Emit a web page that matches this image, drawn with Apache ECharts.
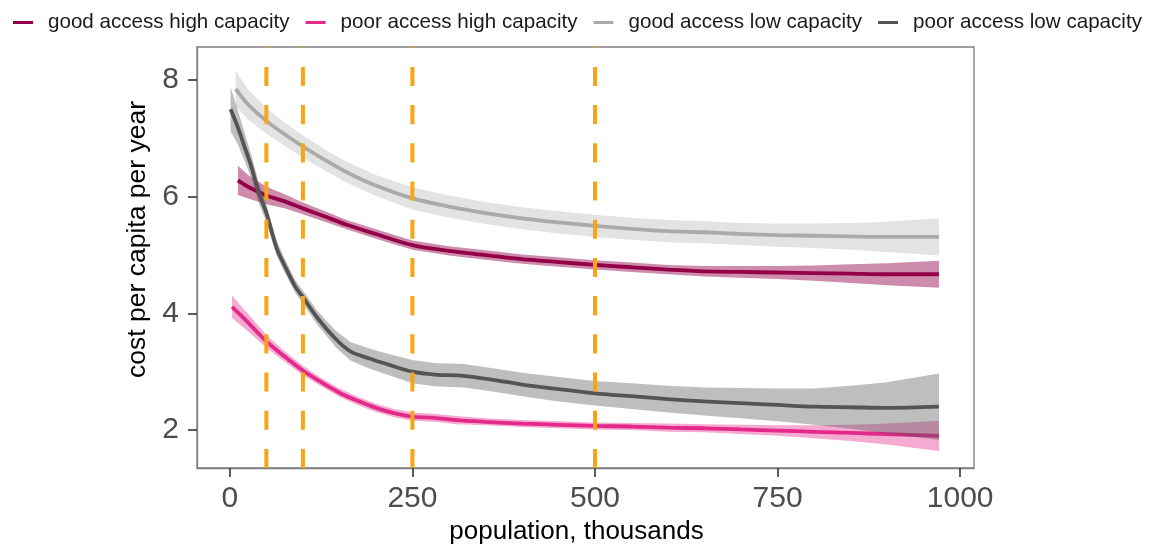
<!DOCTYPE html>
<html>
<head>
<meta charset="utf-8">
<script src="https://cdn.jsdelivr.net/npm/echarts@6/dist/echarts.min.js"></script>
<style>
  html, body { margin: 0; padding: 0; background: #ffffff; }
  #chart { width: 1165px; height: 552px; }
</style>
</head>
<body>
<div id="chart"></div>
<script>
// Smoothed cost per capita per year against population (thousands),
// with a confidence ribbon (half-width) for each access/capacity group.

const seriesNames = [
  'good access high capacity',
  'poor access high capacity',
  'good access low capacity',
  'poor access low capacity'
];

// good access, high capacity
const popGoodHigh  = [11, 25, 50, 75, 100, 130, 160, 200, 250, 300, 350, 400, 450, 500, 550, 600, 650, 700, 750, 800, 850, 900, 971];
const costGoodHigh = [6.28, 6.17, 6.02, 5.92, 5.80, 5.66, 5.52, 5.36, 5.17, 5.07, 5.00, 4.93, 4.88, 4.83, 4.79, 4.75, 4.72, 4.71, 4.70, 4.69, 4.68, 4.67, 4.67];
const ciGoodHigh   = [0.25, 0.20, 0.15, 0.12, 0.10, 0.09, 0.08, 0.08, 0.08, 0.08, 0.08, 0.08, 0.08, 0.08, 0.08, 0.08, 0.09, 0.10, 0.11, 0.13, 0.16, 0.19, 0.23];

// poor access, high capacity
const popPoorHigh  = [3, 25, 50, 75, 100, 125, 150, 175, 200, 225, 250, 280, 310, 350, 400, 450, 500, 550, 600, 650, 700, 750, 800, 850, 900, 971];
const costPoorHigh = [4.11, 3.84, 3.52, 3.26, 3.02, 2.82, 2.64, 2.50, 2.38, 2.29, 2.23, 2.21, 2.17, 2.14, 2.11, 2.09, 2.07, 2.06, 2.04, 2.03, 2.01, 1.99, 1.97, 1.95, 1.93, 1.90];
const ciPoorHigh   = [0.19, 0.15, 0.11, 0.09, 0.08, 0.07, 0.07, 0.07, 0.07, 0.07, 0.07, 0.07, 0.07, 0.06, 0.06, 0.06, 0.06, 0.06, 0.07, 0.07, 0.08, 0.09, 0.11, 0.14, 0.18, 0.26];

// good access, low capacity
const popGoodLow  = [8, 25, 50, 75, 100, 130, 160, 200, 250, 300, 350, 400, 450, 500, 550, 600, 650, 700, 750, 800, 850, 900, 971];
const costGoodLow = [7.85, 7.58, 7.30, 7.07, 6.86, 6.63, 6.42, 6.19, 5.97, 5.83, 5.72, 5.63, 5.56, 5.50, 5.45, 5.41, 5.39, 5.36, 5.34, 5.33, 5.32, 5.31, 5.31];
const ciGoodLow   = [0.30, 0.26, 0.22, 0.20, 0.19, 0.18, 0.18, 0.18, 0.19, 0.19, 0.19, 0.19, 0.19, 0.19, 0.19, 0.19, 0.19, 0.19, 0.20, 0.21, 0.23, 0.26, 0.32];

// poor access, low capacity
const popPoorLow  = [1, 10, 20, 30, 40, 50, 64, 75, 90, 100, 120, 145, 165, 190, 215, 250, 280, 320, 360, 400, 450, 500, 550, 600, 650, 700, 750, 800, 850, 900, 971];
const costPoorLow = [7.50, 7.22, 6.86, 6.49, 6.05, 5.72, 5.12, 4.82, 4.45, 4.28, 3.92, 3.56, 3.35, 3.23, 3.13, 3.00, 2.95, 2.93, 2.86, 2.78, 2.70, 2.63, 2.58, 2.53, 2.49, 2.46, 2.43, 2.40, 2.39, 2.38, 2.40];
const ciPoorLow   = [0.38, 0.30, 0.24, 0.20, 0.17, 0.15, 0.13, 0.12, 0.11, 0.11, 0.12, 0.14, 0.16, 0.17, 0.18, 0.20, 0.20, 0.20, 0.20, 0.20, 0.21, 0.21, 0.22, 0.23, 0.24, 0.26, 0.28, 0.31, 0.37, 0.44, 0.57];

// population thresholds marked with dashed reference lines
const thresholds = [50, 100, 250, 500];

// axis ticks
const xTicks = [0, 250, 500, 750, 1000];
const yTicks = [2, 4, 6, 8];

const X_MIN = -45, X_MAX = 1019;
const Y_MIN = 1.349, Y_MAX = 8.566;

const groups = [
  { name: seriesNames[0], x: popGoodHigh, y: costGoodHigh, ci: ciGoodHigh, line: '#930047', fill: 'rgba(147,0,71,0.45)' },
  { name: seriesNames[1], x: popPoorHigh, y: costPoorHigh, ci: ciPoorHigh, line: '#E3298A', fill: 'rgba(230,45,140,0.40)' },
  { name: seriesNames[2], x: popGoodLow,  y: costGoodLow,  ci: ciGoodLow,  line: '#AAAAAA', fill: 'rgba(170,170,170,0.33)' },
  { name: seriesNames[3], x: popPoorLow,  y: costPoorLow,  ci: ciPoorLow,  line: '#545454', fill: 'rgba(84,84,84,0.38)' }
];

const FONT = '"Liberation Sans", Arial, sans-serif';

const series = [];
groups.forEach(function (g, k) {
  // confidence ribbon
  series.push({
    type: 'custom',
    name: g.name + ' ribbon',
    silent: true,
    clip: true,
    z: 2 + k * 2,
    data: [[g.x[0], g.y[0]]],
    renderItem: function (params, api) {
      const upper = g.x.map(function (x, i) { return api.coord([x, g.y[i] + g.ci[i]]); });
      const lower = g.x.map(function (x, i) { return api.coord([x, g.y[i] - g.ci[i]]); }).reverse();
      return {
        type: 'polygon',
        shape: { points: upper.concat(lower) },
        style: { fill: g.fill, stroke: null }
      };
    }
  });
  // fitted line
  series.push({
    type: 'line',
    name: g.name,
    z: 3 + k * 2,
    data: g.x.map(function (x, i) { return [x, g.y[i]]; }),
    showSymbol: false,
    symbol: 'none',
    smooth: 0.3,
    color: g.line,
    lineStyle: { color: g.line, width: 3.8 }
  });
});

// dashed vertical lines at the population thresholds
thresholds.forEach(function (t) {
  series.push({
    type: 'line',
    name: 'threshold ' + t,
    z: 20,
    silent: true,
    data: [[t, Y_MIN], [t, Y_MAX]],
    showSymbol: false,
    symbol: 'none',
    lineStyle: { color: '#F8A414', width: 4, type: [19.1, 19.1] }
  });
});

const option = {
  animation: false,
  backgroundColor: '#ffffff',
  textStyle: { fontFamily: FONT },
  legend: {
    data: seriesNames,
    left: 8,
    top: 7,
    icon: 'rect',
    itemWidth: 20,
    itemHeight: 3,
    itemGap: 16,
    textStyle: { fontSize: 20.6, color: '#1a1a1a', fontFamily: FONT, padding: [0, 0, 0, 10] }
  },
  grid: {
    left: 197,
    right: 191,
    top: 47,
    bottom: 84,
    show: true,
    borderColor: '#7F7F7F',
    borderWidth: 1.3,
    backgroundColor: 'transparent'
  },
  xAxis: {
    type: 'value',
    min: X_MIN,
    max: X_MAX,
    name: 'population, thousands',
    nameLocation: 'middle',
    nameGap: 50,
    nameTextStyle: { fontSize: 26, color: '#000000', fontFamily: FONT, padding: [0, 18, 0, 0] },
    axisLine: { show: true, onZero: false, lineStyle: { color: '#7F7F7F', width: 1.3 } },
    axisTick: { show: true, customValues: xTicks, length: 9, lineStyle: { color: '#333333', width: 1.6 } },
    axisLabel: {
      show: true, customValues: xTicks, fontSize: 30, color: '#4D4D4D', margin: 16, fontFamily: FONT,
      formatter: function (v) { return String(v); }
    },
    splitLine: { show: false }
  },
  yAxis: {
    type: 'value',
    min: Y_MIN,
    max: Y_MAX,
    name: 'cost per capita per year',
    nameLocation: 'middle',
    nameRotate: 90,
    nameGap: 37,
    nameTextStyle: { fontSize: 26.5, color: '#000000', fontFamily: FONT, padding: [0, 0, 0, 36] },
    axisLine: { show: true, onZero: false, lineStyle: { color: '#7F7F7F', width: 1.3 } },
    axisTick: { show: true, customValues: yTicks, length: 9, lineStyle: { color: '#333333', width: 1.6 } },
    axisLabel: {
      show: true, customValues: yTicks, fontSize: 30, color: '#4D4D4D', margin: 18, fontFamily: FONT,
      formatter: function (v) { return String(v); }
    },
    splitLine: { show: false }
  },
  series: series
};

const chart = echarts.init(document.getElementById('chart'), null, { renderer: 'canvas' });
chart.setOption(option);
</script>
</body>
</html>
